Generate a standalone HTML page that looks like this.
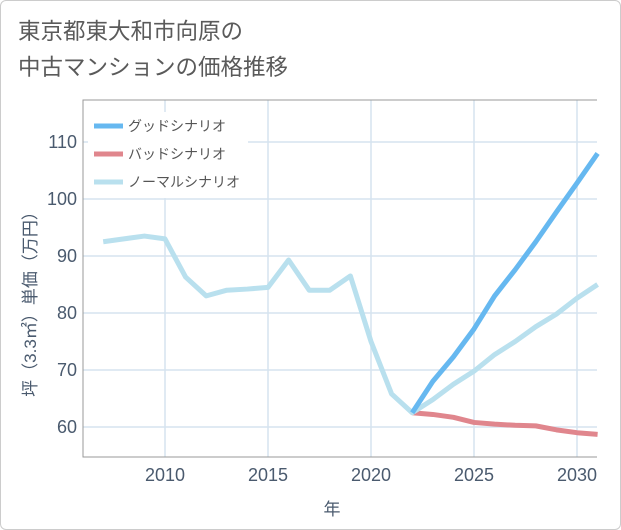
<!DOCTYPE html>
<html><head><meta charset="utf-8"><style>
body{margin:0;background:#fff;}
#card{position:absolute;left:0;top:0;width:619px;height:528px;border:1px solid #ccc;border-radius:6px;background:#fff;}
#title{position:absolute;left:18px;top:14px;font:22.5px "Liberation Sans","Noto Sans CJK JP",sans-serif;color:#5a5a5a;line-height:36px;}
svg{position:absolute;left:0;top:0;}
text{font-family:"Liberation Sans","Noto Sans CJK JP",sans-serif;}
</style></head><body>
<div id="card"></div>
<div id="title">東京都東大和市向原の<br>中古マンションの価格推移</div>
<svg id="chart" width="621" height="530"></svg>
<script>
const years=[2007,2008,2009,2010,2011,2012,2013,2014,2015,2016,2017,2018,2019,2020,2021,2022,2023,2024,2025,2026,2027,2028,2029,2030,2031];
const normal=[92.5,93,93.5,93,86.3,83,84,84.2,84.5,89.3,84,84,86.5,75,65.8,62.5,64.8,67.5,69.8,72.7,75,77.6,79.8,82.6,85];
const goodYears=[2022,2023,2024,2025,2026,2027,2028,2029,2030,2031];
const good=[62.5,68,72.3,77.2,83,87.6,92.5,97.7,102.8,108];
const bad=[62.5,62.2,61.7,60.8,60.5,60.3,60.2,59.5,59,58.7];
const xTicks=[2010,2015,2020,2025,2030];
const yTicks=[60,70,80,90,100,110];
const X0=83,X1=597,Y0=100,Y1=457;
const x=v=>165+(v-2010)*20.6;
const y=v=>427-(v-60)*5.7;
const s=document.getElementById('chart');
const NS='http://www.w3.org/2000/svg';
function mk(t,a,p){const e=document.createElementNS(NS,t);for(const k in a)e.setAttribute(k,a[k]);(p||s).appendChild(e);return e;}
for(let yr=2007;yr<=2031;yr++){if(yr%5===0){const g=mk('line',{x1:x(yr),x2:x(yr),y1:Y0,y2:Y1,stroke:'#d5e3ef','stroke-width':1.5});

}}
yTicks.forEach(v=>{const g=mk('line',{x1:X0,x2:X1,y1:y(v),y2:y(v),stroke:'#d5e3ef','stroke-width':1.5});


const t=mk('text',{x:X0-6,y:y(v)+6,'text-anchor':'end','font-size':18,fill:'#4a5a6e'});t.textContent=v;

});
xTicks.forEach(v=>{const t=mk('text',{x:x(v),y:481,'text-anchor':'middle','font-size':18,fill:'#4a5a6e'});t.textContent=v;

});
const ax=mk('path',{d:`M${X1} ${Y0}H${X0}V${Y1}H${X1}`,fill:'none',stroke:'#999','stroke-width':1});


function line(xs,vs,c,name){const p=mk('polyline',{points:xs.map((d,i)=>x(d)+','+y(vs[i])).join(' '),fill:'none',stroke:c,'stroke-width':5,'stroke-linejoin':'round'});

}
line(goodYears,bad,'#e0868d','bad-scenario-line');
line(years,normal,'#b9e0ee','normal-scenario-line');
line(goodYears,good,'#66b8f0','good-scenario-line');
const lg=[['グッドシナリオ','#66b8f0'],['バッドシナリオ','#e0868d'],['ノーマルシナリオ','#b9e0ee']];
const bg=mk('rect',{x:88,y:112,width:160,height:86,fill:'#fff'});


lg.forEach((l,i)=>{const yy=126+i*28;
const r=mk('line',{x1:94,x2:123,y1:yy,y2:yy,stroke:l[1],'stroke-width':5});


const t=mk('text',{x:128,y:yy+5,'font-size':14,fill:'#555'});t.textContent=l[0];

});
const xt=mk('text',{x:332,y:515,'text-anchor':'middle','font-size':17,fill:'#4a5a6e'});xt.textContent='年';


const yt=mk('text',{x:0,y:0,'text-anchor':'middle','font-size':17,fill:'#4a5a6e',transform:'translate(36,300) rotate(-90)'});yt.textContent='坪（3.3㎡）単価（万円）';


</script>
</body></html>
